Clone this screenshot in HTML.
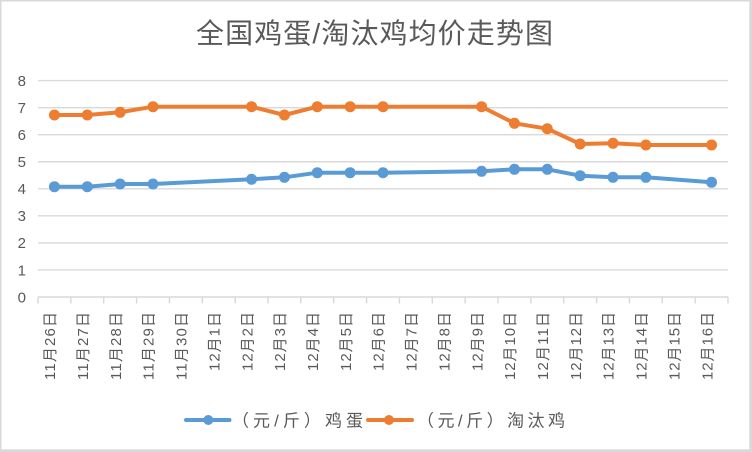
<!DOCTYPE html>
<html><head><meta charset="utf-8"><style>
html,body{margin:0;padding:0;background:#fff;}
svg{display:block;}
text{font-family:"Liberation Sans","Noto Sans CJK SC",sans-serif;fill:#595959;}
</style></head><body>
<svg width="752" height="452" viewBox="0 0 752 452" xmlns="http://www.w3.org/2000/svg">
<rect x="0" y="0" width="752" height="452" fill="#d9d9d9"/>
<rect x="1.5" y="1.5" width="747.8" height="447.8" fill="#ffffff"/>
<text x="196" y="43" font-size="28" textLength="357" lengthAdjust="spacing">全国鸡蛋/淘汰鸡均价走势图</text>
<g stroke="#d9d9d9" stroke-width="1.4">
<line x1="38" y1="80.6" x2="728" y2="80.6"/>
<line x1="38" y1="107.65" x2="728" y2="107.65"/>
<line x1="38" y1="134.7" x2="728" y2="134.7"/>
<line x1="38" y1="161.75" x2="728" y2="161.75"/>
<line x1="38" y1="188.8" x2="728" y2="188.8"/>
<line x1="38" y1="215.85" x2="728" y2="215.85"/>
<line x1="38" y1="242.9" x2="728" y2="242.9"/>
<line x1="38" y1="269.95" x2="728" y2="269.95"/>
<line x1="38" y1="297" x2="728" y2="297"/>
</g>
<g stroke="#d9d9d9" stroke-width="1.4">
<line x1="38" y1="297" x2="38" y2="303.5"/><line x1="70.86" y1="297" x2="70.86" y2="303.5"/><line x1="103.71" y1="297" x2="103.71" y2="303.5"/><line x1="136.57" y1="297" x2="136.57" y2="303.5"/><line x1="169.43" y1="297" x2="169.43" y2="303.5"/><line x1="202.29" y1="297" x2="202.29" y2="303.5"/><line x1="235.14" y1="297" x2="235.14" y2="303.5"/><line x1="268" y1="297" x2="268" y2="303.5"/><line x1="300.86" y1="297" x2="300.86" y2="303.5"/><line x1="333.71" y1="297" x2="333.71" y2="303.5"/><line x1="366.57" y1="297" x2="366.57" y2="303.5"/><line x1="399.43" y1="297" x2="399.43" y2="303.5"/><line x1="432.29" y1="297" x2="432.29" y2="303.5"/><line x1="465.14" y1="297" x2="465.14" y2="303.5"/><line x1="498" y1="297" x2="498" y2="303.5"/><line x1="530.86" y1="297" x2="530.86" y2="303.5"/><line x1="563.71" y1="297" x2="563.71" y2="303.5"/><line x1="596.57" y1="297" x2="596.57" y2="303.5"/><line x1="629.43" y1="297" x2="629.43" y2="303.5"/><line x1="662.29" y1="297" x2="662.29" y2="303.5"/><line x1="695.14" y1="297" x2="695.14" y2="303.5"/><line x1="728" y1="297" x2="728" y2="303.5"/>
</g>
<g font-size="15" text-anchor="end">
<text x="26" y="85.9">8</text>
<text x="26" y="112.95">7</text>
<text x="26" y="140">6</text>
<text x="26" y="167.05">5</text>
<text x="26" y="194.1">4</text>
<text x="26" y="221.15">3</text>
<text x="26" y="248.2">2</text>
<text x="26" y="275.25">1</text>
<text x="26" y="302.3">0</text>
</g>
<g font-size="15" text-anchor="end" dominant-baseline="central">
<text transform="translate(50.6,312) rotate(-90)" textLength="68" lengthAdjust="spacing">11月26日</text>
<text transform="translate(83.5,312) rotate(-90)" textLength="68" lengthAdjust="spacing">11月27日</text>
<text transform="translate(116.3,312) rotate(-90)" textLength="68" lengthAdjust="spacing">11月28日</text>
<text transform="translate(149.2,312) rotate(-90)" textLength="68" lengthAdjust="spacing">11月29日</text>
<text transform="translate(182.1,312) rotate(-90)" textLength="68" lengthAdjust="spacing">11月30日</text>
<text transform="translate(214.9,312) rotate(-90)" textLength="59" lengthAdjust="spacing">12月1日</text>
<text transform="translate(247.8,312) rotate(-90)" textLength="59" lengthAdjust="spacing">12月2日</text>
<text transform="translate(280.6,312) rotate(-90)" textLength="59" lengthAdjust="spacing">12月3日</text>
<text transform="translate(313.5,312) rotate(-90)" textLength="59" lengthAdjust="spacing">12月4日</text>
<text transform="translate(346.3,312) rotate(-90)" textLength="59" lengthAdjust="spacing">12月5日</text>
<text transform="translate(379.2,312) rotate(-90)" textLength="59" lengthAdjust="spacing">12月6日</text>
<text transform="translate(412.1,312) rotate(-90)" textLength="59" lengthAdjust="spacing">12月7日</text>
<text transform="translate(444.9,312) rotate(-90)" textLength="59" lengthAdjust="spacing">12月8日</text>
<text transform="translate(477.8,312) rotate(-90)" textLength="59" lengthAdjust="spacing">12月9日</text>
<text transform="translate(510.6,312) rotate(-90)" textLength="68" lengthAdjust="spacing">12月10日</text>
<text transform="translate(543.5,312) rotate(-90)" textLength="68" lengthAdjust="spacing">12月11日</text>
<text transform="translate(576.3,312) rotate(-90)" textLength="68" lengthAdjust="spacing">12月12日</text>
<text transform="translate(609.2,312) rotate(-90)" textLength="68" lengthAdjust="spacing">12月13日</text>
<text transform="translate(642.1,312) rotate(-90)" textLength="68" lengthAdjust="spacing">12月14日</text>
<text transform="translate(674.9,312) rotate(-90)" textLength="68" lengthAdjust="spacing">12月15日</text>
<text transform="translate(707.8,312) rotate(-90)" textLength="68" lengthAdjust="spacing">12月16日</text>
</g>
<polyline fill="none" stroke="#5B9BD5" stroke-width="4" stroke-linejoin="round" stroke-linecap="round" points="54.43,186.7 87.29,186.7 120.14,184 153,184 251.57,179.3 284.43,177.3 317.29,172.7 350.14,172.7 383,172.7 481.57,171.3 514.43,169.3 547.29,169.3 580.14,175.7 613,177.3 645.86,177.3 711.57,182.3"/>
<g fill="#5B9BD5">
<circle cx="54.43" cy="186.7" r="5.5"/><circle cx="87.29" cy="186.7" r="5.5"/><circle cx="120.14" cy="184" r="5.5"/><circle cx="153" cy="184" r="5.5"/><circle cx="251.57" cy="179.3" r="5.5"/><circle cx="284.43" cy="177.3" r="5.5"/><circle cx="317.29" cy="172.7" r="5.5"/><circle cx="350.14" cy="172.7" r="5.5"/><circle cx="383" cy="172.7" r="5.5"/><circle cx="481.57" cy="171.3" r="5.5"/><circle cx="514.43" cy="169.3" r="5.5"/><circle cx="547.29" cy="169.3" r="5.5"/><circle cx="580.14" cy="175.7" r="5.5"/><circle cx="613" cy="177.3" r="5.5"/><circle cx="645.86" cy="177.3" r="5.5"/><circle cx="711.57" cy="182.3" r="5.5"/>
</g>
<polyline fill="none" stroke="#ED7D31" stroke-width="4" stroke-linejoin="round" stroke-linecap="round" points="54.43,115 87.29,115 120.14,112.3 153,106.7 251.57,106.7 284.43,115 317.29,106.7 350.14,106.7 383,106.7 481.57,106.7 514.43,123.3 547.29,128.7 580.14,144 613,143.3 645.86,145 711.57,145"/>
<g fill="#ED7D31">
<circle cx="54.43" cy="115" r="5.5"/><circle cx="87.29" cy="115" r="5.5"/><circle cx="120.14" cy="112.3" r="5.5"/><circle cx="153" cy="106.7" r="5.5"/><circle cx="251.57" cy="106.7" r="5.5"/><circle cx="284.43" cy="115" r="5.5"/><circle cx="317.29" cy="106.7" r="5.5"/><circle cx="350.14" cy="106.7" r="5.5"/><circle cx="383" cy="106.7" r="5.5"/><circle cx="481.57" cy="106.7" r="5.5"/><circle cx="514.43" cy="123.3" r="5.5"/><circle cx="547.29" cy="128.7" r="5.5"/><circle cx="580.14" cy="144" r="5.5"/><circle cx="613" cy="143.3" r="5.5"/><circle cx="645.86" cy="145" r="5.5"/><circle cx="711.57" cy="145" r="5.5"/>
</g>
<line x1="186" y1="420" x2="229.5" y2="420" stroke="#5B9BD5" stroke-width="4" stroke-linecap="round"/>
<circle cx="208.3" cy="420" r="5" fill="#5B9BD5"/>
<text x="232" y="426.5" font-size="17" textLength="131" lengthAdjust="spacing">（元/斤）鸡蛋</text>
<line x1="368" y1="420" x2="412" y2="420" stroke="#ED7D31" stroke-width="4" stroke-linecap="round"/>
<circle cx="389" cy="420" r="5" fill="#ED7D31"/>
<text x="417" y="426.5" font-size="17" textLength="148" lengthAdjust="spacing">（元/斤）淘汰鸡</text>
</svg>
</body></html>
